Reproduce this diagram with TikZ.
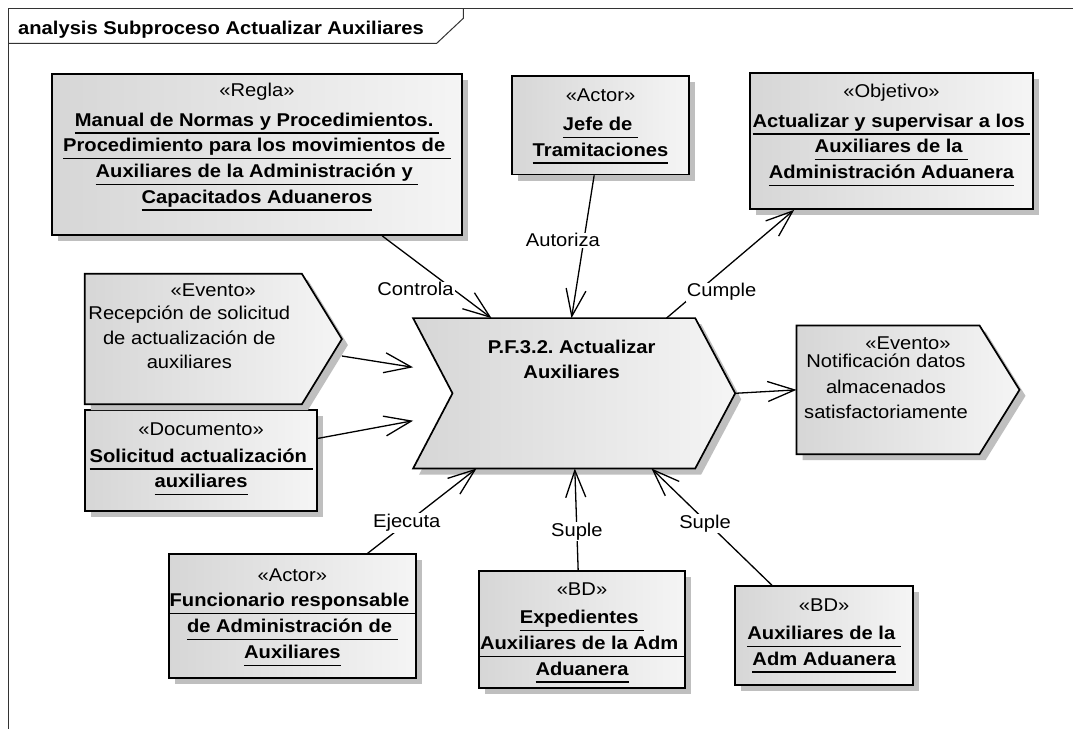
\documentclass[tikz,border=0pt]{standalone}
\usepackage{fontspec}
\setmainfont{Liberation Sans}[FakeStretch=1.09]
\usetikzlibrary{arrows.meta,shadows}

\newcommand{\fs}{\fontsize{18.5}{25.7}\selectfont}
\newcommand{\lined}[1]{\setbox0=\hbox{#1}\rlap{\rule[-7.5pt]{\wd0}{1.2pt}}\box0}
\newcommand{\bname}[1]{\lined{\bfseries #1}}
\frenchspacing

\begin{document}
\begin{tikzpicture}[x=1pt,y=-1pt,
  elem/.style={draw=black, line width=1.7pt, line join=miter,
    left color=black!16, middle color=black!7, right color=black!4,
    general shadow={fill=black!25, shadow xshift=6pt, shadow yshift=-6pt}},
  umlbox/.style={elem, rectangle, inner sep=0pt},
  chevframe/.style={rectangle, inner sep=0pt},
  frameline/.style={draw=black!80, line width=1pt},
  txt/.style={anchor=north, align=center, inner sep=0pt, font=\fs},
  tag/.style={fill=white, inner sep=1pt, font=\fs},
  link/.style={line width=1.3pt, -{Straight Barb[length=27pt,width=20pt]}}]

\path[use as bounding box, fill=white] (0,0) rectangle (1073,729);

% diagram frame
\draw[frameline] (1073,8) -- (8,8) -- (8,729);
\draw[frameline] (8,43.3) -- (436.7,43.3) -- (463.3,18.3) -- (463.3,8);
\node[anchor=base west, inner sep=0pt, font=\fs\bfseries] (title) at (18,34.3) {analysis Subproceso Actualizar Auxiliares};

% elements
\node[umlbox, minimum width=410pt, minimum height=161pt] (regla) at (257,154.5) {};
\node[umlbox, minimum width=177pt, minimum height=98.5pt] (jefe) at (600.5,125.25) {};
\node[umlbox, minimum width=283pt, minimum height=136pt] (obj) at (891.5,141) {};
\node[umlbox, minimum width=232.3pt, minimum height=100.7pt] (doc) at (201.15,460.35) {};
\node[umlbox, minimum width=246.7pt, minimum height=124pt] (func) at (292.35,616.3) {};
\node[umlbox, minimum width=206pt, minimum height=117.6pt] (exped) at (582,629.5) {};
\node[umlbox, minimum width=178.3pt, minimum height=99pt] (auxbd) at (824.15,635.5) {};

\node[chevframe, minimum width=256.7pt, minimum height=130pt] (evin) at (213.35,339) {};
\node[chevframe, minimum width=222.6pt, minimum height=128.3pt] (evout) at (908,389.85) {};
\node[chevframe, minimum width=321.7pt, minimum height=150pt] (proc) at (574.15,393.3) {};

\path[elem] (evin.north west) -- ([xshift=-40pt]evin.north east) -- (evin.east)
  -- ([xshift=-40pt]evin.south east) -- (evin.south west) -- cycle;
\path[elem] (evout.north west) -- ([xshift=-40pt]evout.north east) -- (evout.east)
  -- ([xshift=-40pt]evout.south east) -- (evout.south west) -- cycle;
\path[elem] (proc.north west) -- ([xshift=-40pt]proc.north east) -- (proc.east)
  -- ([xshift=-40pt]proc.south east) -- (proc.south west) -- ([xshift=39.4pt]proc.west) -- cycle;

% texts
\node[txt] (reglatxt) at ([yshift=-9.3pt]regla.north) {«Regla»\\[4.3pt]
  \bname{Manual de Normas y Procedimientos.\ }\\
  \bname{Procedimiento para los movimientos de\ }\\
  \bname{Auxiliares de la Administración y\ }\\
  \bname{Capacitados Aduaneros}};
\node[txt] (jefetxt) at ([yshift=-13.9pt]jefe.north) {«Actor»\\[2.7pt]
  \bname{Jefe de\ }\\\bname{Tramitaciones}};
\node[txt] (objtxt) at ([yshift=-11.3pt]obj.north) {«Objetivo»\\[4.3pt]
  \bname{Actualizar y supervisar a los\ }\\
  \bname{Auxiliares de la\ }\\
  \bname{Administración Aduanera}};
\node[txt] (doctxt) at ([yshift=-13.3pt]doc.north) {«Documento»\\[1pt]
  \bname{Solicitud actualización\ }\\\bname{auxiliares}};
\node[txt] (functxt) at ([yshift=-15.6pt]func.north) {«Actor»\\[-0.7pt]
  \bname{Funcionario responsable\ }\\
  \bname{de Administración de\ }\\
  \bname{Auxiliares}};
\node[txt] (expedtxt) at ([yshift=-12.6pt]exped.north) {«BD»\\[2.6pt]
  \bname{Expedientes\ }\\
  \bname{Auxiliares de la Adm\ }\\
  \bname{Aduanera}};
\node[txt] (auxbdtxt) at ([yshift=-13.9pt]auxbd.north) {«BD»\\[1.7pt]
  \bname{Auxiliares de la\ }\\\bname{Adm Aduanera}};

\node[txt] (evinst) at ([yshift=-9.3pt]evin.north) {«Evento»};
\node[txt, font=\fontsize{18.5}{24.7}\selectfont] (evintxt) at ([xshift=-24pt,yshift=-31.9pt]evin.north)
  {Recepción de solicitud\\de actualización de\\auxiliares};
\node[txt] (evoutst) at ([yshift=-10.9pt]evout.north) {«Evento»};
\node[txt] (evouttxt) at ([xshift=-22pt,yshift=-28.2pt]evout.north)
  {Notificación datos\\almacenados\\satisfactoriamente};
\node[txt, font=\fontsize{18.5}{25}\selectfont\bfseries] (proctxt) at ([xshift=-2.5pt,yshift=-21.6pt]proc.north)
  {P.F.3.2. Actualizar\\Auxiliares};

% connectors
\draw[link] ([xshift=331pt]regla.south west) -- ([xshift=78.4pt]proc.north west)
  node[tag, pos=0.65, xshift=-37.7pt] (controla) {Controla};
\draw[link] ([xshift=83pt]jefe.south west) -- ([xshift=158.4pt]proc.north west)
  node[tag, pos=0.455, xshift=-21pt] (autoriza) {Autoriza};
\draw[link] ([xshift=253.4pt]proc.north west) -- ([xshift=45pt]obj.south west)
  node[tag, pos=0.24, xshift=24.5pt] (cumple) {Cumple};
\draw[link] ([yshift=-17pt]evin.east) -- ([yshift=26pt]proc.west);
\draw[link] ([yshift=22pt]doc.east) -- ([yshift=-27.4pt]proc.west);
\draw[link] (proc.east) -- (evout.west);
\draw[link] ([xshift=199.3pt]func.north west) -- ([xshift=63.4pt]proc.south west)
  node[tag, pos=0.36] (ejecuta) {Ejecuta};
\draw[link] ([xshift=100pt]exped.north west) -- ([xshift=161.7pt]proc.south west)
  node[tag, pos=0.38] (suplea) {Suple};
\draw[link] ([xshift=37.7pt]auxbd.north west) -- ([xshift=238.4pt]proc.south west)
  node[tag, pos=0.53, xshift=-3pt] (supleb) {Suple};
\end{tikzpicture}
\end{document}
